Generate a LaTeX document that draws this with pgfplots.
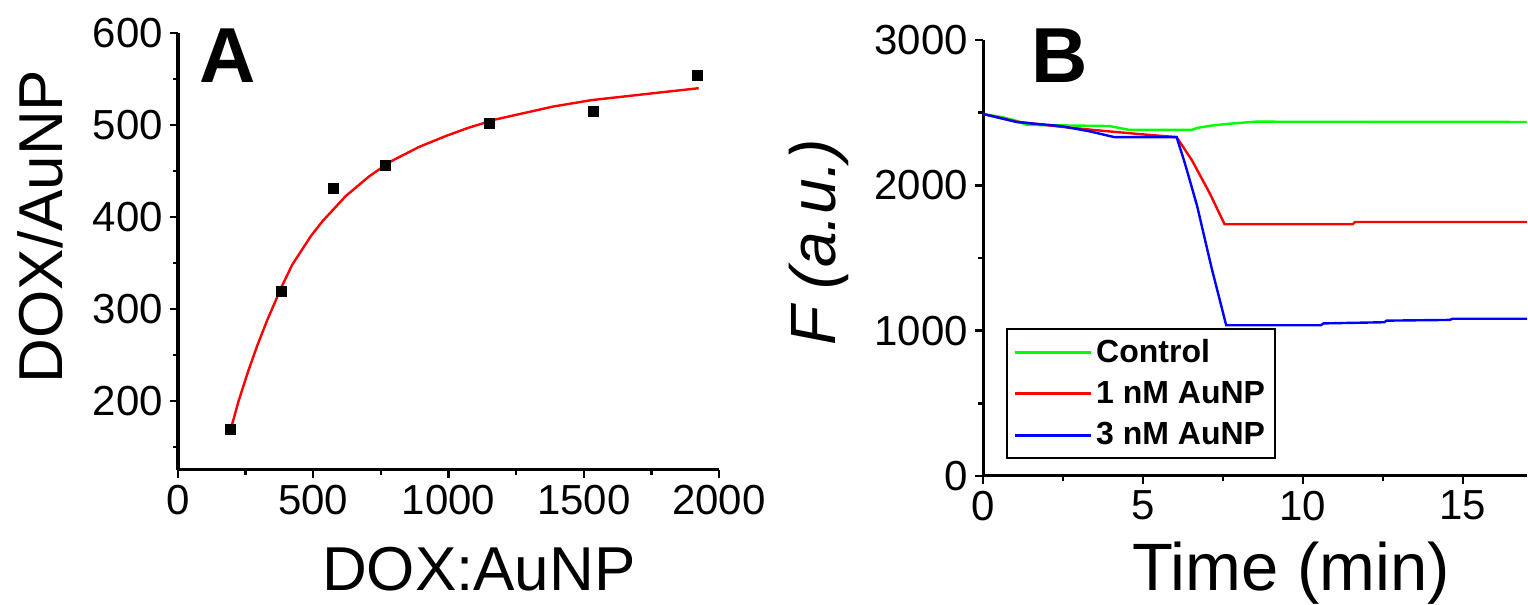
\documentclass[border=0pt]{standalone}
\usepackage{pgfplots}
\pgfplotsset{compat=1.18}
\usepackage{fontspec}
\setmainfont{Liberation Sans}
\begin{document}
\begin{tikzpicture}
\pgfplotsset{
  every axis/.append style={
    scale only axis,
    axis x line*=bottom, axis y line*=left,
    axis line style={line width=1.5pt, -},
    tick align=outside,
    major tick length=4pt, minor tick length=2.5pt,
    every tick/.style={line width=1.2pt, black},
    tick label style={font=\fontsize{21}{24}\selectfont},
    /pgf/number format/assume math mode=true,
    /pgf/number format/1000 sep={},
    clip=false,
  }
}
\begin{axis}[at={(89pt,67.5pt)}, anchor=south west, width=270.5pt, height=218.5pt,
  xmin=0, xmax=2000, ymin=125, ymax=600,
  xtick={0,500,...,2000}, ytick={200,300,...,600},
  minor xtick={250,750,1250,1750}, minor ytick={150,250,...,550},
  xlabel={DOX:AuNP}, ylabel={DOX/AuNP},
  xlabel style={font=\fontsize{31}{36}\selectfont, at={(axis description cs:0.556,-0.227)}, anchor=center},
  ylabel style={font=\fontsize{31}{36}\selectfont, at={(axis description cs:-0.255,0.557)}, anchor=center},
]
\addplot[red, line width=1.2pt] coordinates {
(192,166)(224,200)(259,232)(294,261)(330,288)(383,324)(422,348)(493,380)(536,396)(621,423)(706,444)(784,460)(890,476)(990,488)(1074,497)(1174,506)(1386,520)(1528,527)(1741,534)(1925,540)
};
\addplot[only marks, mark=square*, mark size=2.5pt, black] coordinates {
(192,169)(384,319)(576,431)(768,456)(1152,502)(1536,515)(1920,554)
};
\node[font=\bfseries\fontsize{39}{42}\selectfont] at (axis description cs:0.092,0.948) {A};
\end{axis}

\begin{axis}[at={(491.5pt,64.5pt)}, anchor=south west, width=272pt, height=218pt,
  xmin=0, xmax=17, ymin=0, ymax=3000,
  xtick={0,5,10,15}, ytick={0,1000,2000,3000},
  minor xtick={2.5,7.5,12.5}, minor ytick={500,1500,2500},
  xlabel={Time (min)}, ylabel={\itshape F (a.u.)},
  xlabel style={font=\fontsize{33.5}{38}\selectfont, at={(axis description cs:0.566,-0.224)}, anchor=center},
  ylabel style={font=\fontsize{32}{36}\selectfont, at={(axis description cs:-0.302,0.535)}, anchor=center},
  legend style={at={(axis description cs:0.043,0.04)}, anchor=south west,
    font=\bfseries\fontsize{16}{18}\selectfont, draw=black, line width=0.8pt,
    row sep=4pt, inner sep=3pt},
  legend cell align=left,
  legend image code/.code={\draw[#1, line width=1.5pt] (0pt,0pt) -- (38pt,0pt);},
]
\addplot[color={rgb,255:red,0;green,255;blue,0}, line width=1.2pt] coordinates {
(0,2491)(0.61,2469)(1.06,2443)(1.37,2416)(3.95,2408)(4.56,2382)(6.53,2382)(6.69,2395)(7.14,2411)(7.6,2422)(8.05,2430)(8.51,2438)(17,2436)
};
\addlegendentry{Control}
\addplot[red, line width=1.2pt] coordinates {
(0,2491)(1.06,2438)(2.43,2403)(3.65,2377)(5.02,2350)(6.05,2332)(6.53,2172)(7.07,1952)(7.55,1732)(11.55,1732)(11.63,1748)(17,1748)
};
\addlegendentry{1 nM AuNP}
\addplot[blue, line width=1.2pt] coordinates {
(0,2491)(1.06,2435)(2.43,2408)(3.34,2371)(4.1,2332)(6.05,2332)(6.31,2151)(6.69,1859)(7.14,1435)(7.6,1037)(10.56,1037)(10.64,1050)(12.54,1058)(12.61,1069)(14.59,1074)(14.67,1082)(17,1082)
};
\addlegendentry{3 nM AuNP}
\node[font=\bfseries\fontsize{39}{42}\selectfont] at (axis description cs:0.14,0.963) {B};
\end{axis}
\pgfresetboundingbox
\path (0,0) rectangle (764pt,302.5pt);
\end{tikzpicture}
\end{document}
